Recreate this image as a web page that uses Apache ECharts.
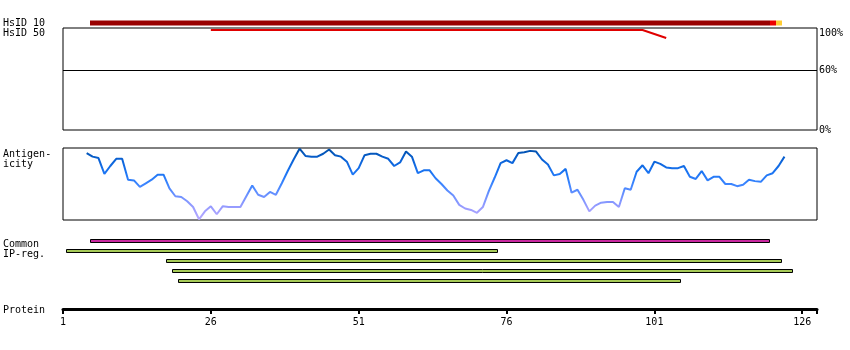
<!DOCTYPE html>
<html><head><meta charset="utf-8">
<script src="https://cdn.jsdelivr.net/npm/echarts@6/dist/echarts.min.js"></script>
<style>html,body{margin:0;padding:0;background:#fff}#c{width:850px;height:350px}</style>
</head><body><div id="c"></div>
<script>
// ---- data ----
const residueTicks = [1, 26, 51, 76, 101, 126];
const proteinEnd = 128.5;
const identityTicks = [0, 60, 100];

// HsID 10 identity track (residue ranges and identity level)
const hsid10Start = [6, 121, 122];
const hsid10End = [120, 121, 122];
const hsid10Level = ['high', 'mid', 'low'];

// HsID 50 identity profile (%)
const hsid50Residue = [26, 99, 100, 101, 102, 103];
const hsid50Identity = [100, 100, 98, 96, 94, 92];

// Antigenicity profile, residues 5..123
const antigenFirstResidue = 5;
const antigenValues = [
  93,88,86,64,75,85,85,56,55,46,
  51,56,63,63,44,33,32,26,18,1,
  12,19,8,19,18,18,18,33,48,35,
  32,39,35,51,68,84,99,89,88,88,
  92,98,90,88,81,63,72,90,92,92,
  88,85,75,80,95,88,65,69,69,58,
  50,41,34,21,16,14,10,18,40,59,
  79,83,79,93,94,96,95,84,77,62,
  64,71,38,42,28,12,20,24,25,25,
  18,44,42,67,76,65,81,78,73,72,
  72,75,60,57,68,55,60,60,50,50,
  47,49,56,54,53,62,65,75,88
];

// Common / IP regions
const regionStart = [6, 2, 19, 20, 21];
const regionEnd = [120, 74, 122, 124, 105];
const regionType = ['common', 'ip', 'ip', 'ip', 'ip'];

// ---- styles ----
const FONT = '10px "DejaVu Sans Mono", monospace';
const levelColor = { high: '#990000', mid: '#ee0000', low: '#ffcc33' };
const regionColor = { common: '#c8289f', ip: '#a6ca58' };

const antigenData = antigenValues.map((v, i) => [antigenFirstResidue + i, v]);
const hsid50Data = hsid50Residue.map((r, i) => [r, hsid50Identity[i]]);
const hsid10Data = hsid10Start.map((s, i) => [s, hsid10End[i], 0.5, hsid10Level[i]]);
const regionData = regionStart.map((s, i) => [s, regionEnd[i], i, regionType[i]]);

const L = 63, R = 33;
const hiddenX = (gi) => ({ type: 'value', gridIndex: gi, min: 1, max: proteinEnd, show: false });

const chart = echarts.init(document.getElementById('c'), null, { renderer: 'canvas' });
chart.setOption({
  animation: false,
  backgroundColor: '#fff',
  grid: [
    { left: L, right: R, top: 17.5, height: 10, show: false },
    { left: L, right: R, top: 28, height: 102, show: true, borderColor: '#000', borderWidth: 1 },
    { left: L, right: R, top: 148, height: 72, show: true, borderColor: '#000', borderWidth: 1 },
    { left: L, right: R, top: 236, height: 50, show: false },
    { left: L, right: R, top: 308, height: 1, show: false }
  ],
  xAxis: [
    hiddenX(0), hiddenX(1), hiddenX(2), hiddenX(3),
    {
      type: 'value', gridIndex: 4, min: 1, max: proteinEnd,
      axisLine: { show: true, lineStyle: { color: '#000', width: 3 } },
      axisTick: { show: true, length: 5, lineStyle: { color: '#000', width: 2 }, customValues: residueTicks.concat([proteinEnd]) },
      axisLabel: { show: true, customValues: residueTicks, color: '#000', fontFamily: '"DejaVu Sans Mono", monospace', fontSize: 10, margin: 8 },
      splitLine: { show: false }
    }
  ],
  yAxis: [
    { type: 'value', gridIndex: 0, min: 0, max: 1, show: false },
    {
      type: 'value', gridIndex: 1, min: 0, max: 102, position: 'right',
      axisLine: { show: false }, axisTick: { show: false }, splitLine: { show: false },
      axisLabel: {
        customValues: identityTicks, margin: 2, color: '#000',
        fontFamily: '"DejaVu Sans Mono", monospace', fontSize: 10,
        formatter: (v) => v === 100 ? '{t|' + v + '%}' : v + '%',
        rich: { t: { padding: [6, 0, 0, 0], fontFamily: '"DejaVu Sans Mono", monospace', fontSize: 10, color: '#000' } }
      }
    },
    { type: 'value', gridIndex: 2, min: 0, max: 100, show: false },
    { type: 'value', gridIndex: 3, min: -0.5, max: 4.5, inverse: true, show: false },
    { type: 'value', gridIndex: 4, min: 0, max: 1, show: false }
  ],
  visualMap: [{
    type: 'continuous', show: false, seriesIndex: 2, dimension: 1, min: 0, max: 100,
    inRange: { color: ['#b8aaff', '#9a9cff', '#6f92ff', '#3a84ff', '#1a74f2', '#0a62d6', '#004ea6'] }
  }],
  series: [
    {
      type: 'custom', xAxisIndex: 0, yAxisIndex: 0, data: hsid10Data, silent: true,
      renderItem: (params, api) => {
        const a = api.coord([api.value(0) - 0.5, api.value(2)]);
        const b = api.coord([api.value(1) + 0.5, api.value(2)]);
        const lvl = hsid10Data[params.dataIndex][3];
        return { type: 'rect', shape: { x: Math.round(a[0]), y: Math.round(a[1]) - 2.5, width: Math.round(b[0]) - Math.round(a[0]), height: 5 }, style: { fill: levelColor[lvl] } };
      }
    },
    {
      type: 'line', xAxisIndex: 1, yAxisIndex: 1, data: hsid50Data, symbol: 'none', silent: true,
      lineStyle: { color: '#e00000', width: 2 },
      markLine: { silent: true, symbol: 'none', label: { show: false }, lineStyle: { color: '#000', width: 1, type: 'solid' }, data: [{ yAxis: 60 }] },
      z: 3
    },
    {
      type: 'line', xAxisIndex: 2, yAxisIndex: 2, data: antigenData, symbol: 'none', silent: true,
      lineStyle: { width: 2 }
    },
    {
      type: 'custom', xAxisIndex: 3, yAxisIndex: 3, data: regionData, silent: true,
      renderItem: (params, api) => {
        const a = api.coord([api.value(0) - 0.5, api.value(2)]);
        const b = api.coord([api.value(1) + 0.5, api.value(2)]);
        const t = regionData[params.dataIndex][3];
        const x0 = Math.round(a[0]) + 0.5, x1 = Math.round(b[0]) - 0.5;
        return { type: 'rect', shape: { x: x0, y: Math.round(a[1]) - 1.5, width: x1 - x0, height: 3 }, style: { fill: regionColor[t], stroke: '#000', lineWidth: 1 } };
      }
    }
  ],
  graphic: [
    { type: 'text', left: 3, top: 18, style: { text: 'HsID 10', font: FONT, fill: '#000' } },
    { type: 'text', left: 3, top: 28, style: { text: 'HsID 50', font: FONT, fill: '#000' } },
    { type: 'text', left: 3, top: 149, style: { text: 'Antigen-\nicity', font: FONT, fill: '#000', lineHeight: 10 } },
    { type: 'text', left: 3, top: 239, style: { text: 'Common\nIP-reg.', font: FONT, fill: '#000', lineHeight: 10 } },
    { type: 'text', left: 3, top: 305, style: { text: 'Protein', font: FONT, fill: '#000' } }
  ]
});
</script>
</body></html>
